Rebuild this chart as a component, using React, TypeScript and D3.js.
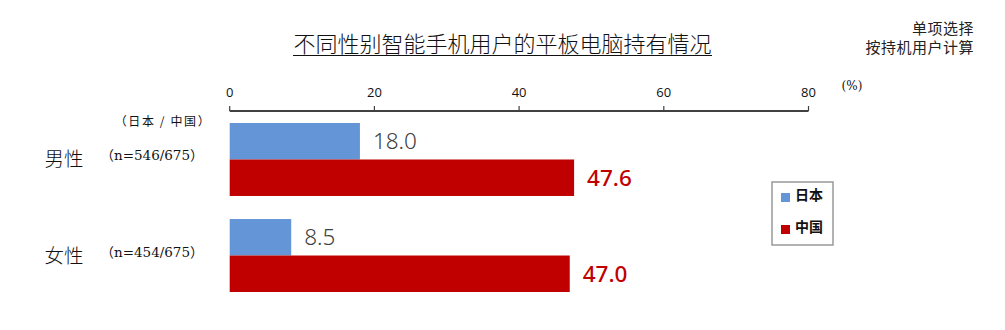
import React from "react";
import * as d3 from "d3";

const categories = ["男性", "女性"];
const sampleLabels = ["（n=546/675）", "（n=454/675）"];
const seriesNames = ["日本", "中国"];
const japanValues = [18.0, 8.5];
const chinaValues = [47.6, 47.0];
const xTicks = [0, 20, 40, 60, 80];

const W = 1005;
const H = 330;
const colors = ["#6495D6", "#C00000"];
const labelColors = ["#404040", "#C00000"];
const CJK = "'Noto Sans CJK SC', 'Noto Sans', sans-serif";
const SERIF = "'DejaVu Serif', 'Liberation Serif', 'Noto Sans CJK SC', serif";

export default function App() {
  const x = d3.scaleLinear().domain([0, 80]).range([229.7, 808.5]);
  const y = d3.scaleBand<string>().domain(categories).range([123, 292]).paddingInner(0.24).paddingOuter(0);
  const sub = d3.scaleBand<string>().domain(seriesNames).range([0, y.bandwidth()]).padding(0);
  const series = [japanValues, chinaValues];
  const axisY = 111;

  return (
    <svg width={W} height={H} style={{ position: "absolute", left: 0, top: 0, background: "#fff" }}>
      {/* Title */}
      <text x={502.5} y={52} textAnchor="middle" fontFamily={CJK} fontSize={22} fill="#111" fontWeight={300}>
        不同性别智能手机用户的平板电脑持有情况
      </text>
      <line x1={293} x2={712} y1={55.5} y2={55.5} stroke="#111" strokeWidth={1.2} />
      {/* top-right note */}
      <text x={974} y={33.5} textAnchor="end" fontFamily={CJK} fontSize={15} letterSpacing={0.5} fill="#222">单项选择</text>
      <text x={974} y={53} textAnchor="end" fontFamily={CJK} fontSize={15} letterSpacing={0.5} fill="#222">按持机用户计算</text>

      {/* Axis */}
      <line x1={x(0)} x2={x(80)} y1={axisY} y2={axisY} stroke="#404040" strokeWidth={2} />
      {xTicks.map((t) => (
        <g key={t}>
          <line x1={x(t)} x2={x(t)} y1={axisY} y2={axisY - 5} stroke="#404040" strokeWidth={1.2} />
          <text x={x(t)} y={97} textAnchor="middle" fontFamily="'Open Sans', 'Noto Sans', sans-serif" fontSize={13} fill="#111">
            {t}
          </text>
        </g>
      ))}
      <text x={852} y={90} textAnchor="middle" fontFamily={SERIF} fontSize={12} fill="#111">(%)</text>

      <text x={163} y={126} textAnchor="middle" fontFamily={CJK} fontSize={12} letterSpacing={1.6} fill="#111">（日本 / 中国）</text>

      {/* Bars */}
      {categories.map((c, i) => (
        <g key={c}>
          <text x={64} y={y(c)! + y.bandwidth() / 2 + 7} textAnchor="middle" fontFamily={CJK} fontSize={19.5} fill="#111" fontWeight={300}>
            {c}
          </text>
          <text x={152} y={y(c)! + y.bandwidth() / 2 + 1} textAnchor="middle" fontFamily={SERIF} fontSize={13.5} fill="#111">
            {sampleLabels[i]}
          </text>
          {seriesNames.map((s, j) => {
            const v = series[j][i];
            const by = y(c)! + sub(s)!;
            return (
              <g key={s}>
                <rect x={x(0)} y={by} width={x(v) - x(0)} height={sub.bandwidth()} fill={colors[j]} />
                <text
                  x={x(v) + 13}
                  y={by + sub.bandwidth() / 2 + 8}
                  fontFamily="'Noto Sans', 'Open Sans', sans-serif"
                  fontSize={22.5}
                  fontWeight={j === 0 ? 300 : 500}
                  fill={labelColors[j]}
                >
                  {v.toFixed(1)}
                </text>
              </g>
            );
          })}
        </g>
      ))}

      {/* Legend */}
      <rect x={772} y={182} width={61} height={63} fill="#fff" stroke="#999" strokeWidth={1.5} />
      {seriesNames.map((s, j) => (
        <g key={s}>
          <rect x={781} y={193 + j * 32} width={9} height={9} fill={colors[j]} />
          <text x={795} y={200 + j * 32} fontFamily={CJK} fontSize={14} fontWeight={700} fill="#111">{s}</text>
        </g>
      ))}
    </svg>
  );
}
